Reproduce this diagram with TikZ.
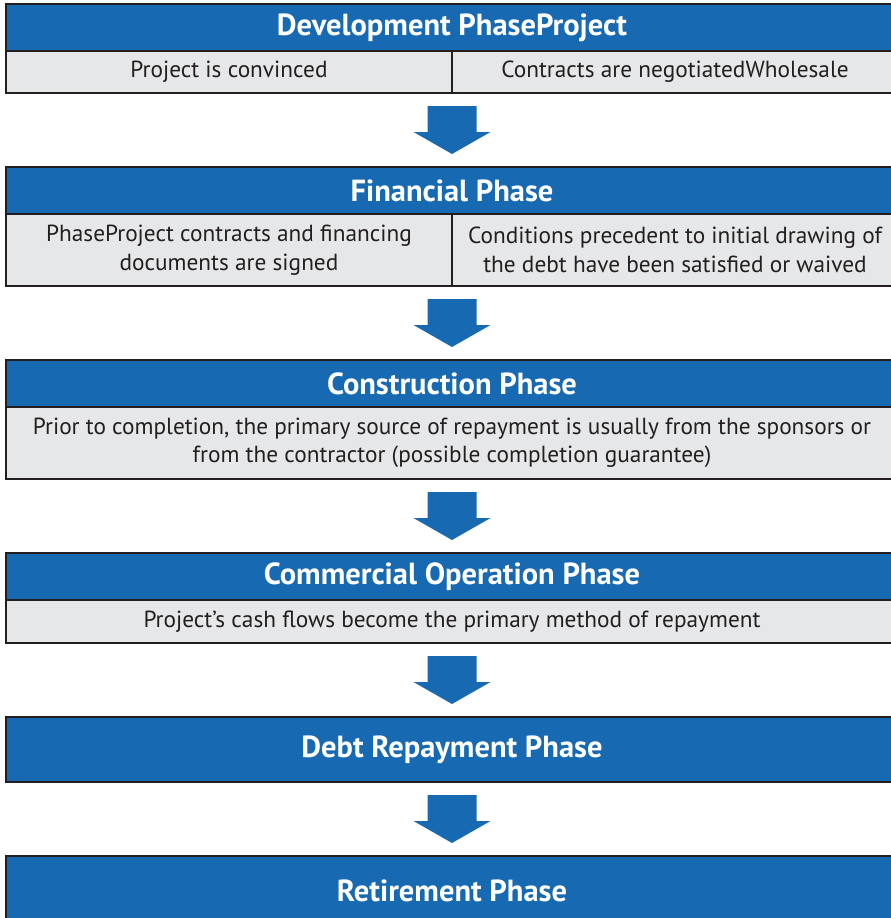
\documentclass[tikz,border=0pt]{standalone}
\usepackage{fontspec}
\setmainfont{PT Sans}
\usetikzlibrary{positioning, calc}
\definecolor{phaseblue}{RGB}{23,105,178}
\definecolor{rowgray}{RGB}{230,231,232}
\definecolor{edgedark}{RGB}{35,31,32}
\definecolor{textdark}{RGB}{35,31,32}

\tikzset{
  phasehead/.style={draw=edgedark, line width=1.5pt, fill=phaseblue, text=white,
    font=\fontsize{30.5}{34}\selectfont\bfseries, minimum width=892pt,
    minimum height=47pt, inner sep=0pt, outer sep=0pt},
  phaserow/.style={draw=edgedark, line width=1.5pt, fill=rowgray,
    minimum width=892pt, minimum height=42pt, inner sep=0pt, outer sep=0pt},
  rowtext/.style={text=textdark, font=\fontsize{23.3}{28.5}\selectfont,
    align=center, inner sep=0pt},
  blockarrow/.style={fill=phaseblue}
}

\begin{document}
\begin{tikzpicture}
  \useasboundingbox (0,0) rectangle (891pt,-918pt);
  % development
  \node[phasehead, anchor=north west] (devhead) at (6pt,-4pt) {Development PhaseProject};
  \node[phaserow, below=0pt of devhead] (devrow) {};
  \draw[draw=edgedark, line width=1.5pt] (devrow.north) -- (devrow.south);
  \node[rowtext] (devleft) at ($(devrow.center)!0.5!(devrow.west)$) {Project is convinced};
  \node[rowtext] (devright) at ($(devrow.center)!0.5!(devrow.east)$) {Contracts are negotiatedWholesale};
  % financial
  \node[phasehead, below=74pt of devrow] (finhead) {Financial Phase};
  \node[phaserow, minimum height=72pt, below=0pt of finhead] (finrow) {};
  \draw[draw=edgedark, line width=1.5pt] (finrow.north) -- (finrow.south);
  \node[rowtext] (finleft) at ($(finrow.center)!0.5!(finrow.west)$)
    {PhaseProject contracts and financing\\documents are signed};
  \node[rowtext] (finright) at ($(finrow.center)!0.5!(finrow.east)$)
    {Conditions precedent to initial drawing of\\the debt have been satisfied or waived};
  % construction
  \node[phasehead, below=74pt of finrow] (conhead) {Construction Phase};
  \node[phaserow, minimum height=72pt, below=0pt of conhead] (conrow) {};
  \node[rowtext] (context) at (conrow.center)
    {Prior to completion, the primary source of repayment is usually from the sponsors or\\from the contractor (possible completion guarantee)};
  % commercial operation
  \node[phasehead, below=74pt of conrow] (comhead) {Commercial Operation Phase};
  \node[phaserow, minimum height=43pt, below=0pt of comhead] (comrow) {};
  \node[rowtext] (comtext) at (comrow.center)
    {Project’s cash flows become the primary method of repayment};
  % debt repayment and retirement
  \node[phasehead, minimum height=65pt, below=74pt of comrow] (debthead) {Debt Repayment Phase};
  \node[phasehead, minimum height=70pt, below=74pt of debthead] (rethead) {Retirement Phase};
  % arrows
  \foreach \a/\b in {devrow/finhead, finrow/conhead, conrow/comhead,
                     comrow/debthead, debthead/rethead} {
    \coordinate (m) at ($(\a.south)!0.5!(\b.north)$);
    \fill[blockarrow] ($(m)+(-24.5pt,24pt)$) -- ($(m)+(24.5pt,24pt)$)
      -- ($(m)+(24.5pt,-2pt)$) -- ($(m)+(38.5pt,-2pt)$) -- ($(m)+(0,-24pt)$)
      -- ($(m)+(-38.5pt,-2pt)$) -- ($(m)+(-24.5pt,-2pt)$) -- cycle;
  }
\end{tikzpicture}
\end{document}
